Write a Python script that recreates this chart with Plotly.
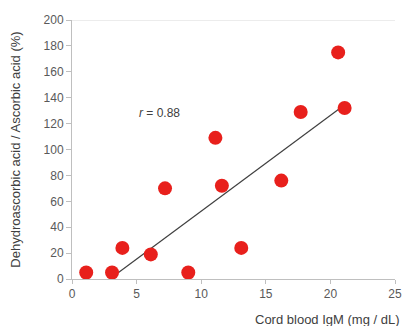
import plotly.graph_objects as go

igm = [1.1, 3.1, 3.9, 6.1, 7.2, 9.0, 11.1, 11.6, 13.1, 16.2, 17.7, 20.6, 21.1]
ratio = [5, 5, 24, 19, 70, 5, 109, 72, 24, 76, 129, 175, 132]
trend_x = [3.6, 20.9]
trend_y = [5, 133]
x_ticks = [0, 5, 10, 15, 20, 25]
y_ticks = [0, 20, 40, 60, 80, 100, 120, 140, 160, 180, 200]

FONT = "Liberation Sans, Arial, sans-serif"

fig = go.Figure()
fig.add_trace(go.Scatter(x=trend_x, y=trend_y, mode="lines",
                         line=dict(color="#404040", width=1.2), showlegend=False, hoverinfo="skip"))
fig.add_trace(go.Scatter(x=igm, y=ratio, mode="markers",
                         marker=dict(color="#E8201C", size=14, line=dict(width=0)),
                         showlegend=False))

fig.add_annotation(x=6.8, y=128, text="<i>r</i> = 0.88", showarrow=False,
                   font=dict(family=FONT, size=12, color="#404040"))

fig.add_shape(type="line", xref="paper", yref="y", x0=0, x1=1, y0=200, y1=200,
              line=dict(color="#D9D9D9", width=1))

fig.update_xaxes(range=[0, 25], tickvals=x_ticks, showgrid=False, zeroline=False,
                 showline=True, linecolor="#BFBFBF", linewidth=1, automargin=False,
                 ticks="outside", ticklen=4, tickcolor="#BFBFBF",
                 tickfont=dict(family=FONT, size=12, color="#595959"))
fig.update_yaxes(range=[0, 200], tickvals=y_ticks, showgrid=False, zeroline=False,
                 showline=True, linecolor="#BFBFBF", linewidth=1, automargin=False,
                 ticks="outside", ticklen=5, tickcolor="#BFBFBF",
                 tickfont=dict(family=FONT, size=12, color="#595959"),
                 title=dict(text="Dehydroascorbic acid / Ascorbic acid (%)",
                            font=dict(family=FONT, size=13, color="#404040"), standoff=20))

fig.add_annotation(xref="paper", yref="paper", x=1.022, y=-0.155, xanchor="right", yanchor="middle",
                   text="Cord blood IgM (mg / dL)", showarrow=False,
                   font=dict(family=FONT, size=13, color="#404040"))

fig.update_layout(width=403, height=326, plot_bgcolor="white", paper_bgcolor="white",
                  margin=dict(l=72, r=8, t=20, b=47), showlegend=False)

fig.write_html("out.html", config={"displayModeBar": False},
               post_script="document.body.style.margin='0';document.body.style.overflow='hidden';")
